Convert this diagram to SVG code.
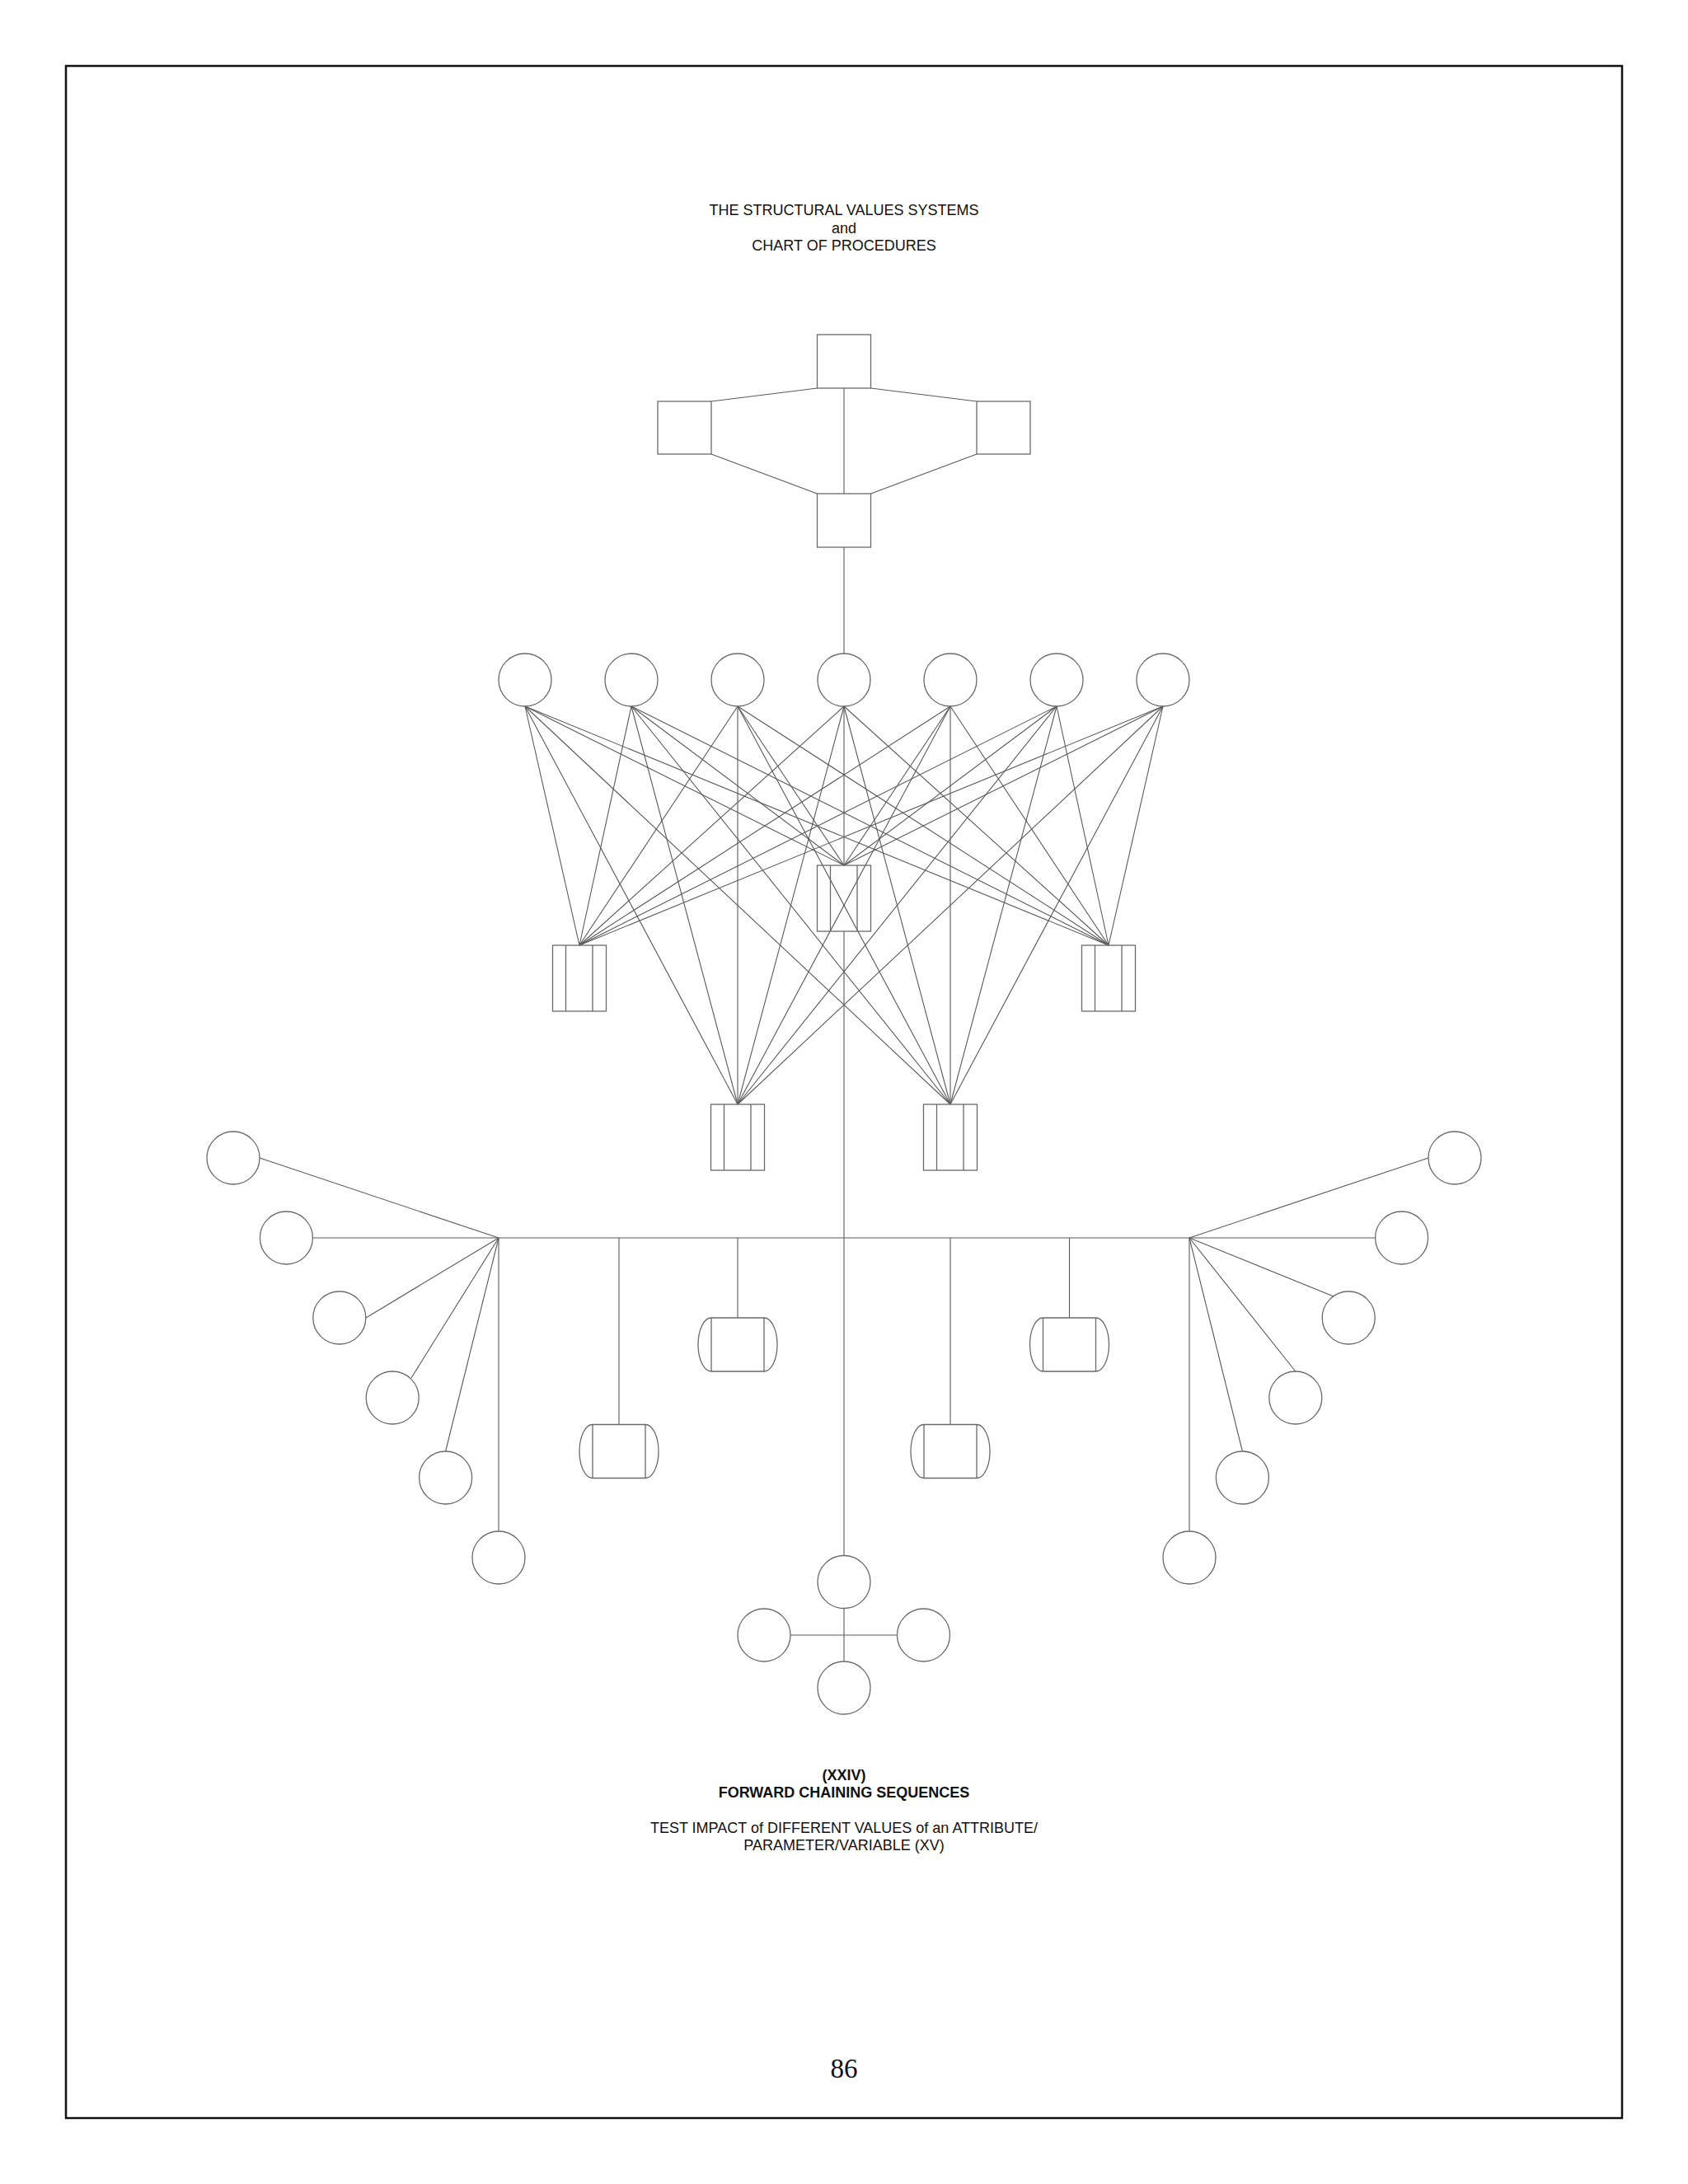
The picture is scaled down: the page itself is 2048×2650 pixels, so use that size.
<svg xmlns="http://www.w3.org/2000/svg" xmlns:xlink="http://www.w3.org/1999/xlink" width="2048" height="2650" viewBox="0 0 2048 2650">
<style>
.node{fill:none;stroke:#6a6a6a;stroke-width:1.3}
.conn line{stroke:#5a5a5a;stroke-width:1.1}
.t{font-family:"Liberation Sans",Arial,sans-serif;font-size:18px;fill:#111;text-anchor:middle}
.b{font-weight:bold}
.pg{font-family:"Liberation Serif","Times New Roman",serif;font-size:33px;fill:#111;text-anchor:middle}
</style>
<defs>
<g id="proc"><rect x="0" y="0" width="65" height="80"/><line x1="16" y1="0" x2="16" y2="80"/><line x1="48.5" y1="0" x2="48.5" y2="80"/></g>
<path id="drum" d="M-32,0 H32 M-32,65 H32 M-32,0 V65 M32,0 V65 M-32,0 A16,32.5 0 0 0 -32,65 M32,0 A16,32.5 0 0 1 32,65"/>
</defs>
<rect width="2048" height="2650" fill="#fff"/>
<rect x="80" y="80" width="1888" height="2490" fill="none" stroke="#111" stroke-width="2.5"/>

<g id="title">
<text class="t" x="1024" y="261">THE STRUCTURAL VALUES SYSTEMS</text>
<text class="t" x="1024" y="282.5">and</text>
<text class="t" x="1024" y="304">CHART OF PROCEDURES</text>
</g>

<g id="connectors" class="conn">
<line x1="991.5" y1="471" x2="863" y2="487"/>
<line x1="1056.5" y1="471" x2="1185" y2="487"/>
<line x1="863" y1="551" x2="991.5" y2="599"/>
<line x1="1185" y1="551" x2="1056.5" y2="599"/>
<line x1="1024" y1="471" x2="1024" y2="599"/>
<line x1="1024" y1="664" x2="1024" y2="793"/>
<!-- circle 1 -->
<line x1="637" y1="857" x2="703" y2="1147"/>
<line x1="637" y1="857" x2="895" y2="1340"/>
<line x1="637" y1="857" x2="1024" y2="1050"/>
<line x1="637" y1="857" x2="1153" y2="1340"/>
<line x1="637" y1="857" x2="1345" y2="1147"/>
<!-- circle 2 -->
<line x1="766" y1="857" x2="703" y2="1147"/>
<line x1="766" y1="857" x2="895" y2="1340"/>
<line x1="766" y1="857" x2="1024" y2="1050"/>
<line x1="766" y1="857" x2="1153" y2="1340"/>
<line x1="766" y1="857" x2="1345" y2="1147"/>
<!-- circle 3 -->
<line x1="895" y1="857" x2="703" y2="1147"/>
<line x1="895" y1="857" x2="895" y2="1340"/>
<line x1="895" y1="857" x2="1024" y2="1050"/>
<line x1="895" y1="857" x2="1153" y2="1340"/>
<line x1="895" y1="857" x2="1345" y2="1147"/>
<!-- circle 4 -->
<line x1="1024" y1="857" x2="703" y2="1147"/>
<line x1="1024" y1="857" x2="895" y2="1340"/>
<line x1="1024" y1="857" x2="1024" y2="1050"/>
<line x1="1024" y1="857" x2="1153" y2="1340"/>
<line x1="1024" y1="857" x2="1345" y2="1147"/>
<!-- circle 5 -->
<line x1="1153" y1="857" x2="703" y2="1147"/>
<line x1="1153" y1="857" x2="895" y2="1340"/>
<line x1="1153" y1="857" x2="1024" y2="1050"/>
<line x1="1153" y1="857" x2="1153" y2="1340"/>
<line x1="1153" y1="857" x2="1345" y2="1147"/>
<!-- circle 6 -->
<line x1="1282" y1="857" x2="703" y2="1147"/>
<line x1="1282" y1="857" x2="895" y2="1340"/>
<line x1="1282" y1="857" x2="1024" y2="1050"/>
<line x1="1282" y1="857" x2="1153" y2="1340"/>
<line x1="1282" y1="857" x2="1345" y2="1147"/>
<!-- circle 7 -->
<line x1="1411" y1="857" x2="703" y2="1147"/>
<line x1="1411" y1="857" x2="895" y2="1340"/>
<line x1="1411" y1="857" x2="1024" y2="1050"/>
<line x1="1411" y1="857" x2="1153" y2="1340"/>
<line x1="1411" y1="857" x2="1345" y2="1147"/>
<!-- central spine -->
<line x1="1024" y1="1130" x2="1024" y2="1887.5"/>
<!-- bus -->
<line x1="379.4" y1="1502" x2="1668.6" y2="1502"/>
<!-- drops to drums -->
<line x1="751" y1="1502" x2="751" y2="1728.5"/>
<line x1="895" y1="1502" x2="895" y2="1599"/>
<line x1="1153" y1="1502" x2="1153" y2="1728.5"/>
<line x1="1297.5" y1="1502" x2="1297.5" y2="1599"/>
<!-- left fan -->
<line x1="605" y1="1502" x2="315" y2="1405"/>
<line x1="605" y1="1502" x2="444" y2="1599"/>
<line x1="605" y1="1502" x2="499" y2="1672"/>
<line x1="605" y1="1502" x2="540.6" y2="1761"/>
<line x1="605" y1="1502" x2="605" y2="1858"/>
<!-- right fan -->
<line x1="1443" y1="1502" x2="1733" y2="1405"/>
<line x1="1443" y1="1502" x2="1618" y2="1573"/>
<line x1="1443" y1="1502" x2="1571.8" y2="1664"/>
<line x1="1443" y1="1502" x2="1507.4" y2="1761"/>
<line x1="1443" y1="1502" x2="1443" y2="1858"/>
<!-- bottom cross -->
<line x1="1024" y1="1951.5" x2="1024" y2="2016"/>
<line x1="959" y1="1984" x2="1088.5" y2="1984"/>
</g>

<g id="sq-top" class="node"><rect x="991.5" y="406" width="65" height="65"/></g>
<g id="sq-left" class="node"><rect x="798" y="487" width="65" height="64"/></g>
<g id="sq-right" class="node"><rect x="1185" y="487" width="65" height="64"/></g>
<g id="sq-bottom" class="node"><rect x="991.5" y="599" width="65" height="65"/></g>

<g id="c1" class="node"><circle cx="637" cy="825" r="32"/></g>
<g id="c2" class="node"><circle cx="766" cy="825" r="32"/></g>
<g id="c3" class="node"><circle cx="895" cy="825" r="32"/></g>
<g id="c4" class="node"><circle cx="1024" cy="825" r="32"/></g>
<g id="c5" class="node"><circle cx="1153" cy="825" r="32"/></g>
<g id="c6" class="node"><circle cx="1282" cy="825" r="32"/></g>
<g id="c7" class="node"><circle cx="1411" cy="825" r="32"/></g>

<g id="p-center" class="node"><use xlink:href="#proc" href="#proc" x="991.5" y="1050"/></g>
<g id="p-left-up" class="node"><use xlink:href="#proc" href="#proc" x="670.5" y="1147"/></g>
<g id="p-right-up" class="node"><use xlink:href="#proc" href="#proc" x="1312.5" y="1147"/></g>
<g id="p-left-low" class="node"><use xlink:href="#proc" href="#proc" x="862.5" y="1340"/></g>
<g id="p-right-low" class="node"><use xlink:href="#proc" href="#proc" x="1120.5" y="1340"/></g>

<g id="d1" class="node"><use xlink:href="#drum" href="#drum" x="751" y="1728.5"/></g>
<g id="d2" class="node"><use xlink:href="#drum" href="#drum" x="895" y="1599"/></g>
<g id="d3" class="node"><use xlink:href="#drum" href="#drum" x="1153" y="1728.5"/></g>
<g id="d4" class="node"><use xlink:href="#drum" href="#drum" x="1297.5" y="1599"/></g>

<g id="lf1" class="node"><circle cx="283" cy="1405" r="32"/></g>
<g id="lf2" class="node"><circle cx="347.4" cy="1502" r="32"/></g>
<g id="lf3" class="node"><circle cx="411.8" cy="1599" r="32"/></g>
<g id="lf4" class="node"><circle cx="476.2" cy="1696" r="32"/></g>
<g id="lf5" class="node"><circle cx="540.6" cy="1793" r="32"/></g>
<g id="lf6" class="node"><circle cx="605" cy="1890" r="32"/></g>

<g id="rf1" class="node"><circle cx="1765" cy="1405" r="32"/></g>
<g id="rf2" class="node"><circle cx="1700.6" cy="1502" r="32"/></g>
<g id="rf3" class="node"><circle cx="1636.2" cy="1599" r="32"/></g>
<g id="rf4" class="node"><circle cx="1571.8" cy="1696" r="32"/></g>
<g id="rf5" class="node"><circle cx="1507.4" cy="1793" r="32"/></g>
<g id="rf6" class="node"><circle cx="1443" cy="1890" r="32"/></g>

<g id="b-top" class="node"><circle cx="1024" cy="1919.5" r="32"/></g>
<g id="b-left" class="node"><circle cx="927" cy="1984" r="32"/></g>
<g id="b-right" class="node"><circle cx="1120.5" cy="1984" r="32"/></g>
<g id="b-bottom" class="node"><circle cx="1024" cy="2048" r="32"/></g>

<g id="caption">
<text class="t b" x="1024" y="2160">(XXIV)</text>
<text class="t b" x="1024" y="2181">FORWARD CHAINING SEQUENCES</text>
<text class="t" x="1024" y="2224">TEST IMPACT of DIFFERENT VALUES of an ATTRIBUTE/</text>
<text class="t" x="1024" y="2245">PARAMETER/VARIABLE (XV)</text>
</g>
<text class="pg" x="1024" y="2521">86</text>
</svg>
